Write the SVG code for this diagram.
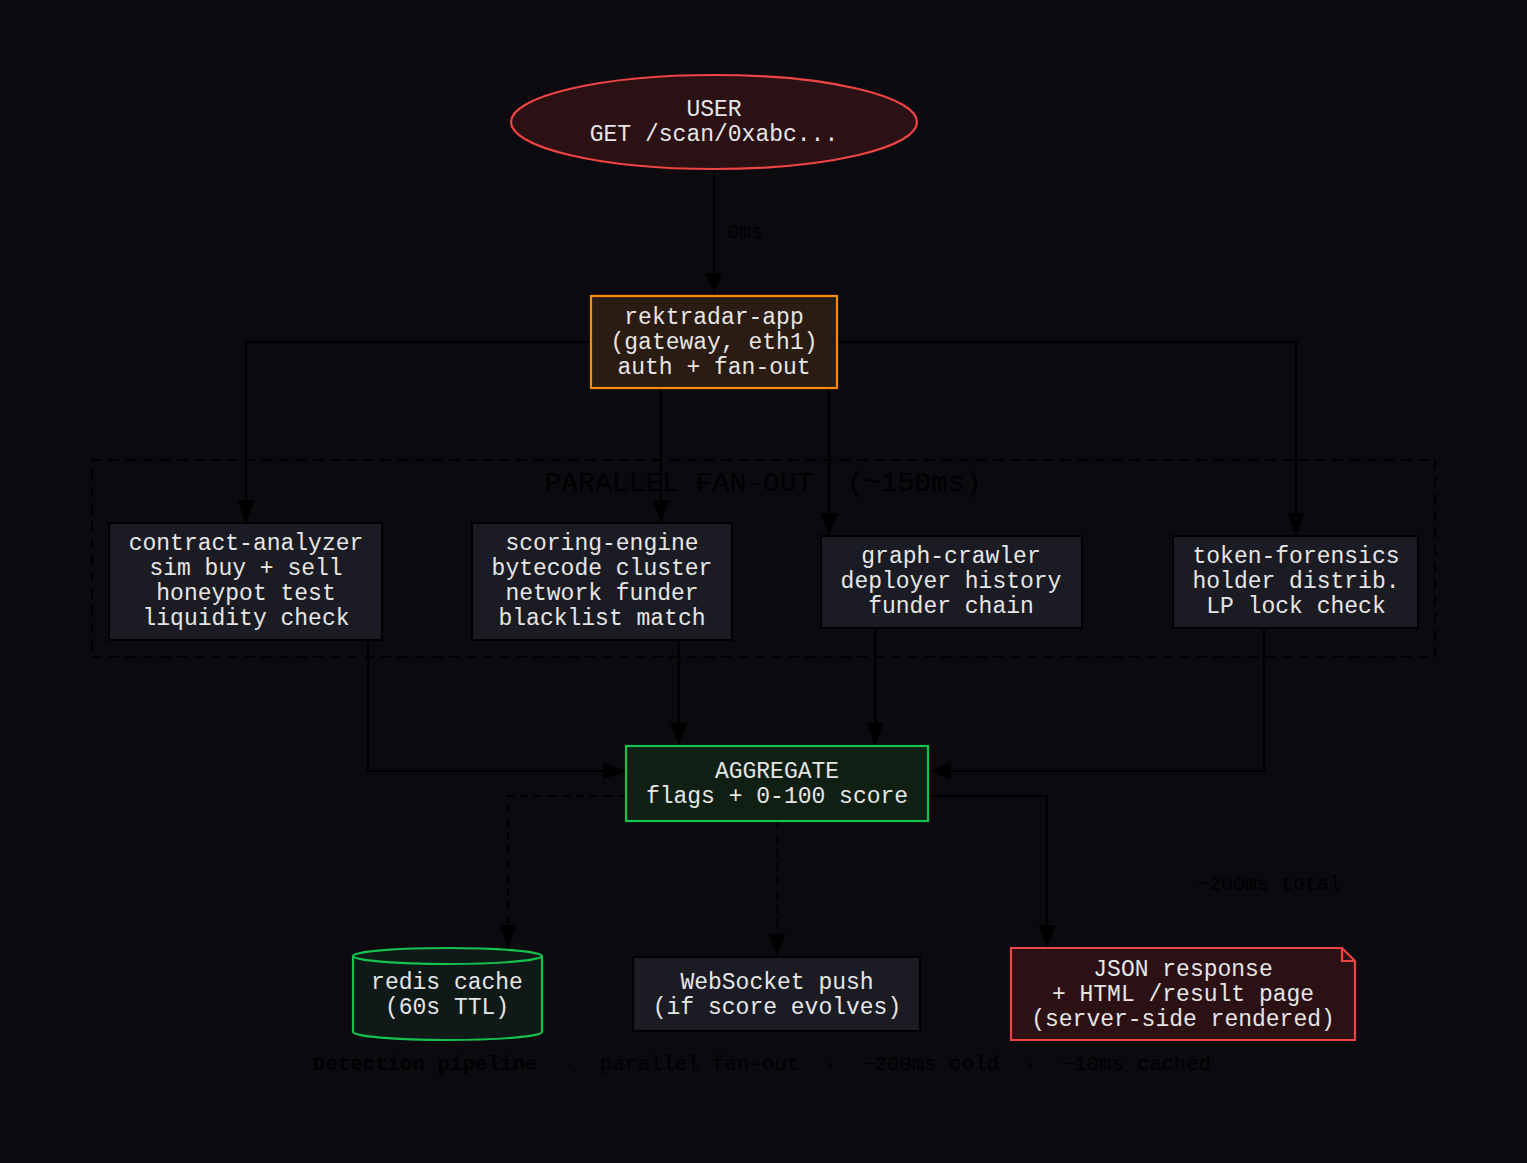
<svg xmlns="http://www.w3.org/2000/svg" width="1527" height="1163" viewBox="0 0 1527 1163">
<style>
  .t { font-family: "Liberation Mono", "DejaVu Sans Mono", monospace; font-size: 23px; fill: #e6e6e6; text-anchor: middle; }
  .lbl { font-family: "Liberation Mono", "DejaVu Sans Mono", monospace; font-size: 20px; fill: #000000; }
  .gray { fill: #1b1c23; stroke: #000000; stroke-width: 2; }
  .e { fill: none; stroke: #000000; stroke-width: 2.2; }
  .d { stroke-dasharray: 8 6; }
</style>
<defs>
  <marker id="ah" markerUnits="userSpaceOnUse" markerWidth="24" markerHeight="18" refX="23" refY="8.5" orient="auto">
    <path d="M0,0 L23,8.5 L0,17 z" fill="#000000"/>
  </marker>
</defs>
<rect width="1527" height="1163" fill="#0a0a0f"/>

<g id="cluster-parallel">
  <rect x="92" y="460" width="1343" height="197" fill="none" stroke="#000000" stroke-width="2" stroke-dasharray="10 7"/>
  <text x="763" y="491" style="font-family:'Liberation Mono','DejaVu Sans Mono',monospace;font-size:28px;fill:#000000;text-anchor:middle" xml:space="preserve">PARALLEL FAN-OUT  (~150ms)</text>
</g>

<g id="edges">
  <path class="e" d="M714,169 L714,296" marker-end="url(#ah)"/>
  <text class="lbl" x="727" y="238">0ms</text>
  <path class="e" d="M591,342 L246,342 L246,523" marker-end="url(#ah)"/>
  <path class="e" d="M661,388 L661,523" marker-end="url(#ah)"/>
  <path class="e" d="M829,388 L829,536" marker-end="url(#ah)"/>
  <path class="e" d="M837,342 L1296,342 L1296,536" marker-end="url(#ah)"/>
  <path class="e" d="M368,640 L368,771 L626,771" marker-end="url(#ah)"/>
  <path class="e" d="M679,640 L679,746" marker-end="url(#ah)"/>
  <path class="e" d="M875,628 L875,746" marker-end="url(#ah)"/>
  <path class="e" d="M1264,628 L1264,771 L928,771" marker-end="url(#ah)"/>
  <path class="e d" d="M626,796 L508,796 L508,948" marker-end="url(#ah)"/>
  <path class="e d" d="M777,821 L777,957" marker-end="url(#ah)"/>
  <path class="e" d="M928,796 L1047,796 L1047,948" marker-end="url(#ah)"/>
  <text class="lbl" x="1197" y="890">~200ms total</text>
</g>

<g id="user">
  <ellipse cx="714" cy="122" rx="203" ry="47" fill="#2b1114" stroke="#ef4444" stroke-width="2.2"/>
  <text class="t" x="714" y="116">USER</text>
  <text class="t" x="714" y="141">GET /scan/0xabc...</text>
</g>

<g id="rektradar-app">
  <rect x="591" y="296" width="246" height="92" fill="#2a1c12" stroke="#f98a0c" stroke-width="2.2"/>
  <text class="t" x="714" y="324">rektradar-app</text>
  <text class="t" x="714" y="349">(gateway, eth1)</text>
  <text class="t" x="714" y="374">auth + fan-out</text>
</g>

<g id="contract-analyzer">
  <rect class="gray" x="109" y="523" width="273" height="117"/>
  <text class="t" x="246" y="550">contract-analyzer</text>
  <text class="t" x="246" y="575">sim buy + sell</text>
  <text class="t" x="246" y="600">honeypot test</text>
  <text class="t" x="246" y="625">liquidity check</text>
</g>

<g id="scoring-engine">
  <rect class="gray" x="472" y="523" width="260" height="117"/>
  <text class="t" x="602" y="550">scoring-engine</text>
  <text class="t" x="602" y="575">bytecode cluster</text>
  <text class="t" x="602" y="600">network funder</text>
  <text class="t" x="602" y="625">blacklist match</text>
</g>

<g id="graph-crawler">
  <rect class="gray" x="821" y="536" width="261" height="92"/>
  <text class="t" x="951" y="563">graph-crawler</text>
  <text class="t" x="951" y="588">deployer history</text>
  <text class="t" x="951" y="613">funder chain</text>
</g>

<g id="token-forensics">
  <rect class="gray" x="1173" y="536" width="245" height="92"/>
  <text class="t" x="1296" y="563">token-forensics</text>
  <text class="t" x="1296" y="588">holder distrib.</text>
  <text class="t" x="1296" y="613">LP lock check</text>
</g>

<g id="aggregate">
  <rect x="626" y="746" width="302" height="75" fill="#0f1f13" stroke="#16c24e" stroke-width="2.2"/>
  <text class="t" x="777" y="778">AGGREGATE</text>
  <text class="t" x="777" y="803">flags + 0-100 score</text>
</g>

<g id="redis-cache">
  <path d="M353,956 L353,1032 A94.5,8 0 0 0 542,1032 L542,956 A94.5,8 0 0 0 353,956 Z" fill="#0f1a18" stroke="#16c24e" stroke-width="2.2"/>
  <path d="M353,956 A94.5,8 0 0 0 542,956" fill="none" stroke="#16c24e" stroke-width="2.2"/>
  <text class="t" x="447" y="989">redis cache</text>
  <text class="t" x="447" y="1014">(60s TTL)</text>
</g>

<g id="websocket-push">
  <rect class="gray" x="633" y="957" width="287" height="74"/>
  <text class="t" x="777" y="989">WebSocket push</text>
  <text class="t" x="777" y="1014">(if score evolves)</text>
</g>

<g id="json-response">
  <path d="M1011,948 L1342,948 L1355,961 L1355,1040 L1011,1040 Z" fill="#2b1114" stroke="#ef4444" stroke-width="2.2"/>
  <path d="M1342,948 L1342,961 L1355,961" fill="none" stroke="#ef4444" stroke-width="2.2"/>
  <text class="t" x="1183" y="976">JSON response</text>
  <text class="t" x="1183" y="1001">+ HTML /result page</text>
  <text class="t" x="1183" y="1026">(server-side rendered)</text>
</g>

<g id="footer">
  <text x="762" y="1070" style="font-family:'Liberation Mono','DejaVu Sans Mono',monospace;font-size:20.8px;fill:#000000;text-anchor:middle" xml:space="preserve"><tspan font-weight="bold">Detection pipeline</tspan>  ·  parallel fan-out  ·  ~200ms cold  ·  ~10ms cached</text>
</g>
</svg>
